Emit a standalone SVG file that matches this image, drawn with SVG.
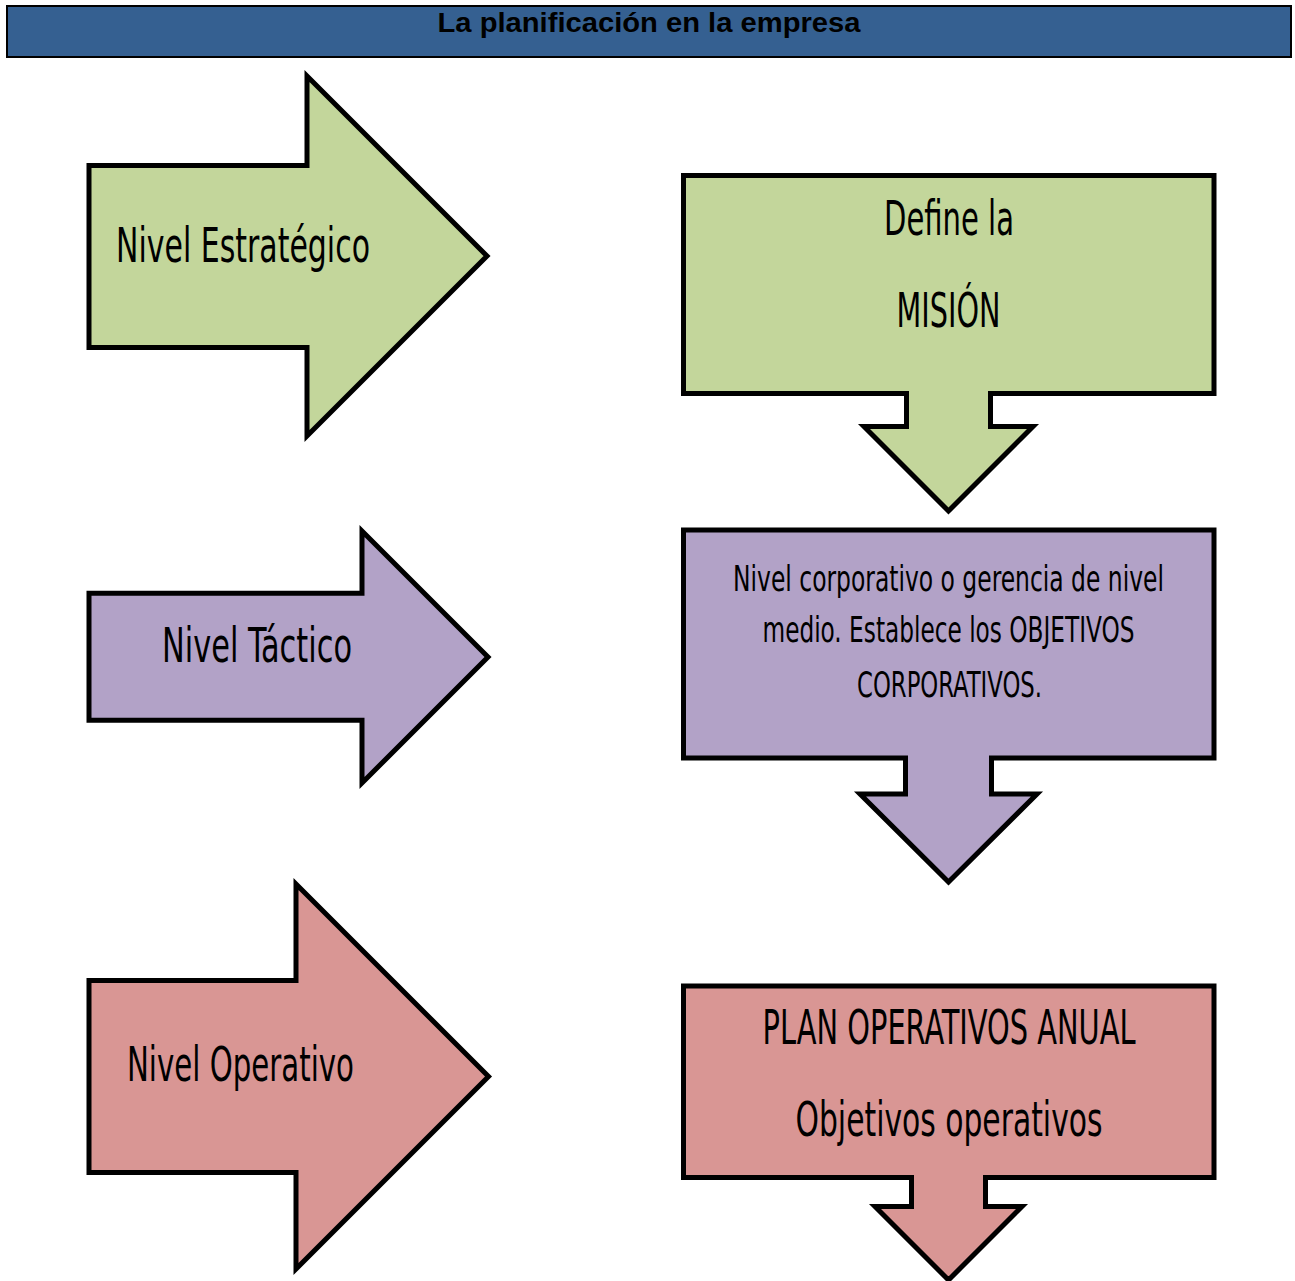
<svg xmlns="http://www.w3.org/2000/svg" width="1295" height="1281" viewBox="0 0 1295 1281">
  <style>
    .shape { stroke: #000; stroke-width: 5; stroke-linejoin: miter; stroke-miterlimit: 10; }
    .green { fill: #C3D69B; }
    .purple { fill: #B2A2C7; }
    .red { fill: #D99694; }
    /* tall, narrow lettering: half-size glyphs stretched 2x vertically */
    .lbl { font-family: "DejaVu Sans Condensed", "DejaVu Sans", sans-serif; fill: #000; }
    .big { font-size: 24px; }
    .small { font-size: 18px; }
    .title { font-family: "Liberation Sans", Arial, sans-serif; font-weight: bold; font-size: 28.5px; fill: #000; }
  </style>

  <!-- header bar -->
  <g id="header">
    <rect x="7" y="6" width="1284" height="51" fill="#356091" stroke="#000" stroke-width="2"/>
    <text class="title" x="649" y="32" text-anchor="middle" textLength="423" lengthAdjust="spacingAndGlyphs">La planificación en la empresa</text>
  </g>

  <!-- left column: level arrows -->
  <g id="nivel-estrategico">
    <polygon class="shape green" points="89,165.5 307,165.5 307,76 487,256 307,436 307,347.5 89,347.5"/>
    <text class="lbl big" transform="translate(116,262) scale(1,2)" textLength="254" lengthAdjust="spacingAndGlyphs">Nivel Estratégico</text>
  </g>

  <g id="nivel-tactico">
    <polygon class="shape purple" points="89,593.3 362,593.3 362,531 488,657 362,783 362,720.2 89,720.2"/>
    <text class="lbl big" transform="translate(162,662) scale(1,2)" textLength="190" lengthAdjust="spacingAndGlyphs">Nivel Táctico</text>
  </g>

  <g id="nivel-operativo">
    <polygon class="shape red" points="89,980.5 296,980.5 296,884 488.5,1076.5 296,1269 296,1172.5 89,1172.5"/>
    <text class="lbl big" transform="translate(127,1081) scale(1,2)" textLength="227" lengthAdjust="spacingAndGlyphs">Nivel Operativo</text>
  </g>

  <!-- right column: callouts with down arrows -->
  <g id="mision">
    <polygon class="shape green" points="683.5,175.5 1214,175.5 1214,393.5 990.5,393.5 990.5,426.5 1033,426.5 948.5,511 864,426.5 906.5,426.5 906.5,393.5 683.5,393.5"/>
    <text class="lbl big" transform="translate(884,235) scale(1,2)" textLength="130" lengthAdjust="spacingAndGlyphs">Define la</text>
    <text class="lbl big" transform="translate(896.5,327) scale(1,2)" textLength="104" lengthAdjust="spacingAndGlyphs">MISIÓN</text>
  </g>

  <g id="objetivos-corporativos">
    <polygon class="shape purple" points="683.5,530 1214,530 1214,758 991.5,758 991.5,794 1037,794 948.5,882 860,794 905.5,794 905.5,758 683.5,758"/>
    <text class="lbl small" transform="translate(733,591) scale(1,2)" textLength="431" lengthAdjust="spacingAndGlyphs">Nivel corporativo o gerencia de nivel</text>
    <text class="lbl small" transform="translate(762.5,642) scale(1,2)" textLength="372" lengthAdjust="spacingAndGlyphs">medio. Establece los OBJETIVOS</text>
    <text class="lbl small" transform="translate(857,697) scale(1,2)" textLength="185" lengthAdjust="spacingAndGlyphs">CORPORATIVOS.</text>
  </g>

  <g id="plan-operativo">
    <polygon class="shape red" points="683.5,986 1214,986 1214,1177.5 985.5,1177.5 985.5,1206.5 1022,1206.5 948.5,1280 875,1206.5 911.5,1206.5 911.5,1177.5 683.5,1177.5"/>
    <text class="lbl big" transform="translate(762.5,1044) scale(1,2)" textLength="373" lengthAdjust="spacingAndGlyphs">PLAN OPERATIVOS ANUAL</text>
    <text class="lbl big" transform="translate(795.5,1136) scale(1,2)" textLength="307" lengthAdjust="spacingAndGlyphs">Objetivos operativos</text>
  </g>

  <g id="connectors"/>
</svg>
